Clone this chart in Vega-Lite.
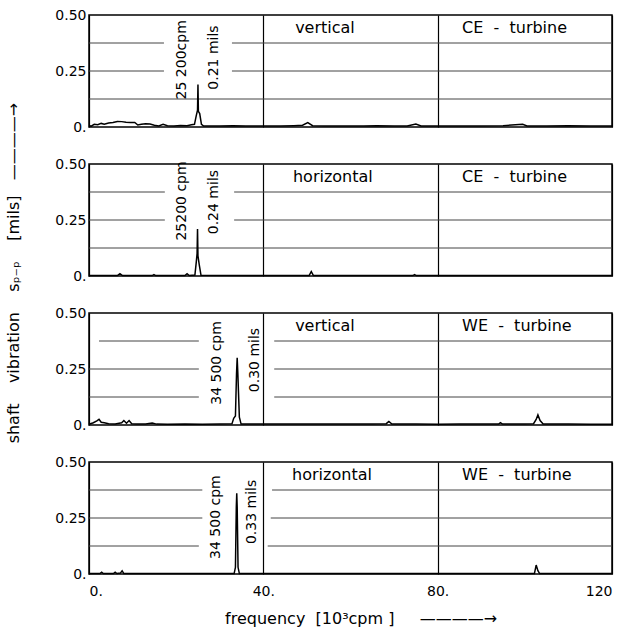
{
  "$schema": "https://vega.github.io/schema/vega-lite/v6.json",
  "padding": {"left": 5, "top": 8, "right": 5, "bottom": 5},
  "background": "white",
  "bounds": "flush",
  "data": {"values": [
    {"p":1,"k":"g","f":0,"f2":17.2,"a":0.375},{"p":1,"k":"g","f":32.8,"f2":120,"a":0.375},
    {"p":1,"k":"g","f":0,"f2":17.2,"a":0.25},{"p":1,"k":"g","f":32.8,"f2":120,"a":0.25},
    {"p":1,"k":"g","f":0,"f2":120,"a":0.125},
    {"p":2,"k":"g","f":0,"f2":17.4,"a":0.375},{"p":2,"k":"g","f":33.3,"f2":120,"a":0.375},
    {"p":2,"k":"g","f":0,"f2":17.4,"a":0.25},{"p":2,"k":"g","f":33.3,"f2":120,"a":0.25},
    {"p":2,"k":"g","f":0,"f2":120,"a":0.125},
    {"p":3,"k":"g","f":2.3,"f2":25.2,"a":0.375},{"p":3,"k":"g","f":42.5,"f2":120,"a":0.375},
    {"p":3,"k":"g","f":0,"f2":25.2,"a":0.25},{"p":3,"k":"g","f":42.5,"f2":120,"a":0.25},
    {"p":3,"k":"g","f":0,"f2":25.2,"a":0.125},{"p":3,"k":"g","f":42.5,"f2":120,"a":0.125},
    {"p":4,"k":"g","f":0,"f2":26,"a":0.375},{"p":4,"k":"g","f":42,"f2":120,"a":0.375},
    {"p":4,"k":"g","f":0,"f2":26,"a":0.25},{"p":4,"k":"g","f":41.7,"f2":120,"a":0.25},
    {"p":4,"k":"g","f":0,"f2":25.2,"a":0.125},{"p":4,"k":"g","f":41,"f2":120,"a":0.125},

    {"p":1,"k":"s","f":0,"a":0.006},{"p":1,"k":"s","f":0.5,"a":0.004},{"p":1,"k":"s","f":1.2,"a":0.012},
    {"p":1,"k":"s","f":2.0,"a":0.01},{"p":1,"k":"s","f":2.8,"a":0.016},{"p":1,"k":"s","f":3.5,"a":0.012},
    {"p":1,"k":"s","f":4.5,"a":0.018},{"p":1,"k":"s","f":5.5,"a":0.02},{"p":1,"k":"s","f":6.5,"a":0.025},
    {"p":1,"k":"s","f":7.5,"a":0.024},{"p":1,"k":"s","f":8.5,"a":0.021},{"p":1,"k":"s","f":9.5,"a":0.02},
    {"p":1,"k":"s","f":10.5,"a":0.02},{"p":1,"k":"s","f":11.2,"a":0.009},{"p":1,"k":"s","f":12.0,"a":0.012},
    {"p":1,"k":"s","f":13.0,"a":0.015},{"p":1,"k":"s","f":14.0,"a":0.013},{"p":1,"k":"s","f":15.0,"a":0.008},
    {"p":1,"k":"s","f":16.0,"a":0.005},{"p":1,"k":"s","f":17.0,"a":0.012},{"p":1,"k":"s","f":18.0,"a":0.006},
    {"p":1,"k":"s","f":19.5,"a":0.005},{"p":1,"k":"s","f":21.0,"a":0.007},{"p":1,"k":"s","f":22.5,"a":0.006},
    {"p":1,"k":"s","f":23.5,"a":0.01},{"p":1,"k":"s","f":24.2,"a":0.012},{"p":1,"k":"s","f":24.6,"a":0.05},
    {"p":1,"k":"s","f":24.9,"a":0.075},{"p":1,"k":"s","f":25.0,"a":0.19},{"p":1,"k":"s","f":25.1,"a":0.07},
    {"p":1,"k":"s","f":25.4,"a":0.06},{"p":1,"k":"s","f":25.8,"a":0.012},{"p":1,"k":"s","f":26.3,"a":0.004},
    {"p":1,"k":"s","f":28,"a":0.005},{"p":1,"k":"s","f":30,"a":0.004},{"p":1,"k":"s","f":33,"a":0.006},
    {"p":1,"k":"s","f":36,"a":0.004},{"p":1,"k":"s","f":40,"a":0.005},{"p":1,"k":"s","f":44,"a":0.004},
    {"p":1,"k":"s","f":47,"a":0.006},{"p":1,"k":"s","f":49.0,"a":0.008},{"p":1,"k":"s","f":50.2,"a":0.02},
    {"p":1,"k":"s","f":51.3,"a":0.006},{"p":1,"k":"s","f":54,"a":0.005},{"p":1,"k":"s","f":57,"a":0.004},
    {"p":1,"k":"s","f":60,"a":0.005},{"p":1,"k":"s","f":63,"a":0.004},{"p":1,"k":"s","f":66,"a":0.006},
    {"p":1,"k":"s","f":70,"a":0.004},{"p":1,"k":"s","f":73,"a":0.005},{"p":1,"k":"s","f":75,"a":0.013},
    {"p":1,"k":"s","f":76.2,"a":0.005},{"p":1,"k":"s","f":80,"a":0.004},{"p":1,"k":"s","f":85,"a":0.005},
    {"p":1,"k":"s","f":90,"a":0.004},{"p":1,"k":"s","f":95,"a":0.006},{"p":1,"k":"s","f":99.5,"a":0.012},
    {"p":1,"k":"s","f":100.5,"a":0.005},{"p":1,"k":"s","f":105,"a":0.004},{"p":1,"k":"s","f":110,"a":0.006},
    {"p":1,"k":"s","f":115,"a":0.004},{"p":1,"k":"s","f":120,"a":0.004},

    {"p":2,"k":"s","f":0,"a":0.002},{"p":2,"k":"s","f":6.5,"a":0.002},{"p":2,"k":"s","f":7.1,"a":0.01},
    {"p":2,"k":"s","f":7.7,"a":0.002},{"p":2,"k":"s","f":14.5,"a":0.002},{"p":2,"k":"s","f":14.9,"a":0.006},
    {"p":2,"k":"s","f":15.3,"a":0.002},{"p":2,"k":"s","f":22,"a":0.002},{"p":2,"k":"s","f":22.5,"a":0.01},
    {"p":2,"k":"s","f":23,"a":0.002},{"p":2,"k":"s","f":24.3,"a":0.004},{"p":2,"k":"s","f":24.6,"a":0.06},
    {"p":2,"k":"s","f":24.8,"a":0.1},{"p":2,"k":"s","f":24.9,"a":0.21},{"p":2,"k":"s","f":25.0,"a":0.09},
    {"p":2,"k":"s","f":25.3,"a":0.05},{"p":2,"k":"s","f":25.7,"a":0.003},{"p":2,"k":"s","f":50.5,"a":0.002},
    {"p":2,"k":"s","f":51.0,"a":0.02},{"p":2,"k":"s","f":51.5,"a":0.002},{"p":2,"k":"s","f":74.3,"a":0.002},
    {"p":2,"k":"s","f":74.7,"a":0.006},{"p":2,"k":"s","f":75.1,"a":0.002},{"p":2,"k":"s","f":120,"a":0.002},

    {"p":3,"k":"s","f":0,"a":0.003},{"p":3,"k":"s","f":1.0,"a":0.01},{"p":3,"k":"s","f":1.8,"a":0.018},
    {"p":3,"k":"s","f":2.3,"a":0.025},{"p":3,"k":"s","f":2.8,"a":0.012},{"p":3,"k":"s","f":3.5,"a":0.01},
    {"p":3,"k":"s","f":4.5,"a":0.006},{"p":3,"k":"s","f":6,"a":0.005},{"p":3,"k":"s","f":7.5,"a":0.01},
    {"p":3,"k":"s","f":8.0,"a":0.02},{"p":3,"k":"s","f":8.6,"a":0.008},{"p":3,"k":"s","f":9.2,"a":0.02},
    {"p":3,"k":"s","f":9.8,"a":0.006},{"p":3,"k":"s","f":11,"a":0.004},{"p":3,"k":"s","f":13,"a":0.005},
    {"p":3,"k":"s","f":14.5,"a":0.009},{"p":3,"k":"s","f":15.5,"a":0.004},{"p":3,"k":"s","f":18,"a":0.003},
    {"p":3,"k":"s","f":22,"a":0.004},{"p":3,"k":"s","f":26,"a":0.003},{"p":3,"k":"s","f":30,"a":0.004},
    {"p":3,"k":"s","f":32.8,"a":0.005},{"p":3,"k":"s","f":33.2,"a":0.03},{"p":3,"k":"s","f":33.6,"a":0.04},
    {"p":3,"k":"s","f":33.85,"a":0.23},{"p":3,"k":"s","f":34.0,"a":0.30},{"p":3,"k":"s","f":34.15,"a":0.23},
    {"p":3,"k":"s","f":34.5,"a":0.035},{"p":3,"k":"s","f":34.9,"a":0.004},{"p":3,"k":"s","f":40,"a":0.004},
    {"p":3,"k":"s","f":45,"a":0.005},{"p":3,"k":"s","f":50,"a":0.004},{"p":3,"k":"s","f":55,"a":0.005},
    {"p":3,"k":"s","f":60,"a":0.004},{"p":3,"k":"s","f":65,"a":0.005},{"p":3,"k":"s","f":68.2,"a":0.006},
    {"p":3,"k":"s","f":68.8,"a":0.016},{"p":3,"k":"s","f":69.5,"a":0.004},{"p":3,"k":"s","f":75,"a":0.004},
    {"p":3,"k":"s","f":80,"a":0.003},{"p":3,"k":"s","f":85,"a":0.004},{"p":3,"k":"s","f":90,"a":0.004},
    {"p":3,"k":"s","f":94,"a":0.004},{"p":3,"k":"s","f":94.4,"a":0.01},{"p":3,"k":"s","f":94.9,"a":0.004},
    {"p":3,"k":"s","f":100,"a":0.004},{"p":3,"k":"s","f":102,"a":0.006},{"p":3,"k":"s","f":102.6,"a":0.025},
    {"p":3,"k":"s","f":103.0,"a":0.045},{"p":3,"k":"s","f":103.5,"a":0.02},{"p":3,"k":"s","f":104.2,"a":0.005},
    {"p":3,"k":"s","f":110,"a":0.004},{"p":3,"k":"s","f":115,"a":0.003},{"p":3,"k":"s","f":120,"a":0.003},

    {"p":4,"k":"s","f":0,"a":0.002},{"p":4,"k":"s","f":2.5,"a":0.002},{"p":4,"k":"s","f":2.9,"a":0.008},
    {"p":4,"k":"s","f":3.3,"a":0.002},{"p":4,"k":"s","f":5.6,"a":0.002},{"p":4,"k":"s","f":6.0,"a":0.008},
    {"p":4,"k":"s","f":6.4,"a":0.002},{"p":4,"k":"s","f":7.2,"a":0.004},{"p":4,"k":"s","f":7.6,"a":0.014},
    {"p":4,"k":"s","f":8.0,"a":0.002},{"p":4,"k":"s","f":33.3,"a":0.002},{"p":4,"k":"s","f":33.6,"a":0.03},
    {"p":4,"k":"s","f":33.8,"a":0.3},{"p":4,"k":"s","f":33.9,"a":0.36},{"p":4,"k":"s","f":34.0,"a":0.3},
    {"p":4,"k":"s","f":34.2,"a":0.03},{"p":4,"k":"s","f":34.5,"a":0.002},{"p":4,"k":"s","f":102.2,"a":0.002},
    {"p":4,"k":"s","f":102.6,"a":0.04},{"p":4,"k":"s","f":103.0,"a":0.015},{"p":4,"k":"s","f":103.4,"a":0.002},
    {"p":4,"k":"s","f":120,"a":0.002},

    {"p":1,"k":"r","f":21.3,"a":0.30,"t":"25 200cpm"},{"p":1,"k":"r","f":28.7,"a":0.31,"t":"0.21 mils"},
    {"p":2,"k":"r","f":21.3,"a":0.335,"t":"25200 cpm"},{"p":2,"k":"r","f":28.7,"a":0.33,"t":"0.24 mils"},
    {"p":3,"k":"r","f":29.4,"a":0.277,"t":"34 500 cpm"},{"p":3,"k":"r","f":38.2,"a":0.29,"t":"0.30 mils"},
    {"p":4,"k":"r","f":29.1,"a":0.254,"t":"34 500 cpm"},{"p":4,"k":"r","f":37.5,"a":0.277,"t":"0.33 mils"},

    {"p":1,"k":"l","f":47.3,"a":0.444,"t":"vertical"},{"p":1,"k":"l","f":85.6,"a":0.444,"t":"CE\u00a0\u00a0-\u00a0\u00a0turbine"},
    {"p":2,"k":"l","f":46.8,"a":0.444,"t":"horizontal"},{"p":2,"k":"l","f":85.6,"a":0.444,"t":"CE\u00a0\u00a0-\u00a0\u00a0turbine"},
    {"p":3,"k":"l","f":47.3,"a":0.44,"t":"vertical"},{"p":3,"k":"l","f":85.6,"a":0.44,"t":"WE\u00a0\u00a0-\u00a0\u00a0turbine"},
    {"p":4,"k":"l","f":46.6,"a":0.44,"t":"horizontal"},{"p":4,"k":"l","f":85.6,"a":0.44,"t":"WE\u00a0\u00a0-\u00a0\u00a0turbine"}
  ]},
  "facet": {"row": {"field": "p", "type": "ordinal",
    "title": "\u200b\u00a0\u00a0\u00a0\u00a0\u00a0\u00a0\u00a0\u00a0\u00a0shaft\u00a0\u00a0\u00a0\u00a0vibration\u00a0\u00a0\u00a0\u00a0s\u209a\u208b\u209a\u00a0\u00a0\u00a0\u00a0[mils]\u00a0\u00a0\u00a0\u2014\u2014\u2014\u2014\u2192",
    "header": {"labels": false, "titleFontSize": 16, "titleFontWeight": "normal", "titleColor": "black", "titleFont": "DejaVu Sans", "titlePadding": 22}}},
  "spacing": 37,
  "spec": {
    "width": 523, "height": 112,
    "encoding": {
      "x": {"field": "f", "type": "quantitative", "scale": {"domain": [0, 120], "nice": false},
        "axis": {"values": [0, 40, 80, 120], "labelExpr": "datum.value == 120 ? '120' : datum.value + '.'",
          "title": "\u200b\u00a0\u00a0\u00a0\u00a0frequency\u00a0\u00a0[10\u00b3cpm\u00a0]\u00a0\u00a0\u00a0\u00a0\u00a0\u2014\u2014\u2014\u2014\u2192",
          "grid": true, "gridColor": "black", "gridOpacity": 1, "gridWidth": 1.2, "ticks": false, "domain": false,
          "labelFlush": true, "labelPadding": 10, "titlePadding": 12}},
      "y": {"field": "a", "type": "quantitative", "scale": {"domain": [0, 0.5], "nice": false},
        "axis": {"values": [0, 0.25, 0.5], "labelExpr": "datum.value == 0 ? '0.\u00a0\u00a0\u00a0' : format(datum.value, '.2f')",
          "title": null, "grid": false, "ticks": false, "domain": false, "labelPadding": 3}}
    },
    "layer": [
      {"transform": [{"filter": "datum.k == 'g'"}],
       "mark": {"type": "rule", "color": "#444", "strokeWidth": 1},
       "encoding": {"x2": {"field": "f2"}}},
      {"transform": [{"filter": "datum.k == 's'"}],
       "mark": {"type": "line", "color": "black", "strokeWidth": 1.5}},
      {"transform": [{"filter": "datum.k == 'r'"}],
       "mark": {"type": "text", "angle": 270, "fontSize": 14, "align": "center", "baseline": "middle", "color": "black"},
       "encoding": {"text": {"field": "t"}}},
      {"transform": [{"filter": "datum.k == 'l'"}],
       "mark": {"type": "text", "fontSize": 16, "align": "left", "baseline": "middle", "color": "black"},
       "encoding": {"text": {"field": "t"}}}
    ]
  },
  "config": {
    "font": "DejaVu Sans",
    "view": {"stroke": "black", "strokeWidth": 1.5},
    "axis": {"labelFontSize": 14, "labelColor": "black", "labelFont": "DejaVu Sans", "titleFontSize": 16, "titleFontWeight": "normal", "titleColor": "black", "titleFont": "DejaVu Sans"},
    "text": {"font": "DejaVu Sans"}
  }
}
